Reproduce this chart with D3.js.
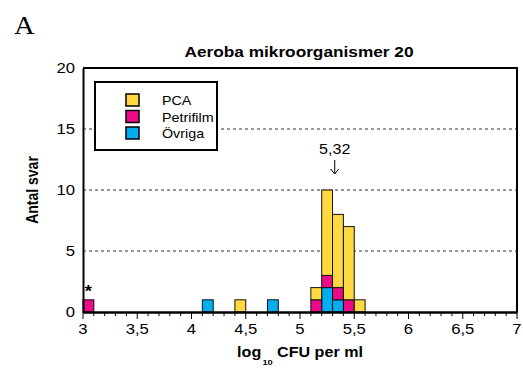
<!DOCTYPE html>
<html>
<head>
<meta charset="utf-8">
<script src="https://cdnjs.cloudflare.com/ajax/libs/d3/7.8.5/d3.min.js"></script>
<style>
  body { margin: 0; background: #fff; }
  svg { display: block; font-family: "Liberation Sans", Arial, sans-serif; }
</style>
</head>
<body>
<svg id="chart" width="523" height="372"></svg>
<script>
// Histogram bins (lower edge, log10 CFU per ml), width 0.1
const binStarts = [3.0, 4.1, 4.4, 4.7, 5.1, 5.2, 5.3, 5.4, 5.5];
const ovriga    = [0,   1,   0,   1,   0,   2,   1,   0,   0];
const petrifilm = [1,   0,   0,   0,   1,   1,   1,   1,   0];
const pca       = [0,   0,   1,   0,   1,   7,   6,   6,   1];
const binWidth = 0.1;

const seriesNames = ["Övriga", "Petrifilm", "PCA"];
const seriesColors = { "PCA": "#ffd940", "Petrifilm": "#ec0a87", "Övriga": "#00aeef" };
const legendOrder = ["PCA", "Petrifilm", "Övriga"];

const xTicks = [3, 3.5, 4, 4.5, 5, 5.5, 6, 6.5, 7];
const yTicks = [0, 5, 10, 15, 20];
const medianValue = 5.32;
const outlierBin = 3.0;

const svg = d3.select("#chart");
const m = { left: 83, right: 517, top: 68, bottom: 312 };
const sx = 1.15; // horizontal stretch of the lettering

const x = d3.scaleLinear().domain([3, 7]).range([m.left, m.right]);
const y = d3.scaleLinear().domain([0, 20]).range([m.bottom, m.top]);

// Text placed at (px, py) with horizontal stretch
function label(px, py, str, opts = {}) {
  const g = svg.append("g").attr("transform", `translate(${px},${py}) scale(${opts.sx || sx},1)`);
  const t = g.append("text").attr("text-anchor", opts.anchor || "middle")
    .attr("font-size", opts.size || 14).text(str);
  if (opts.bold) t.attr("font-weight", "bold");
  if (opts.family) t.attr("font-family", opts.family);
  return t;
}

// Panel letter
label(14, 34, "A", { anchor: "start", size: 26, sx: 1.1,
  family: "'Liberation Serif', 'Times New Roman', serif" });

// Title
label(299, 57, "Aeroba mikroorganismer 20", { bold: true, size: 14.5, sx: 1.19 });

// Dashed gridlines
svg.append("g").selectAll("line").data(yTicks.filter(d => d > 0 && d < 20)).join("line")
  .attr("x1", m.left).attr("x2", m.right)
  .attr("y1", d => y(d)).attr("y2", d => y(d))
  .attr("stroke", "#333").attr("stroke-width", 1).attr("stroke-dasharray", "3,3");

// Stacked bars
const rows = binStarts.map((b, i) => ({ bin: b, "Övriga": ovriga[i], "Petrifilm": petrifilm[i], "PCA": pca[i] }));
const stack = d3.stack().keys(seriesNames)(rows);
svg.append("g").selectAll("g").data(stack).join("g")
  .attr("fill", d => seriesColors[d.key])
  .selectAll("rect").data(d => d.filter(s => s[1] > s[0])).join("rect")
  .attr("x", d => x(d.data.bin))
  .attr("width", d => x(d.data.bin + binWidth) - x(d.data.bin))
  .attr("y", d => y(d[1]))
  .attr("height", d => y(d[0]) - y(d[1]))
  .attr("stroke", "#111").attr("stroke-width", 1);

// Frame (top and right)
svg.append("path")
  .attr("d", `M${m.left},${m.top}H${m.right}V${m.bottom}`)
  .attr("fill", "none").attr("stroke", "#000").attr("stroke-width", 2);

// Y axis
const yAxis = svg.append("g").attr("transform", `translate(${m.left},0)`)
  .call(d3.axisLeft(y).tickValues(yTicks).tickSize(0).tickFormat(""));
yAxis.select(".domain").attr("stroke", "#000").attr("stroke-width", 2);
yTicks.forEach(v => label(m.left - 8, y(v) + 5, String(v), { anchor: "end", size: 14.5 }));

// X axis: minor ticks every 0.1
const minor = d3.range(30, 71).map(v => v / 10);
svg.append("g").selectAll("line").data(minor).join("line")
  .attr("x1", d => x(d)).attr("x2", d => x(d))
  .attr("y1", m.bottom).attr("y2", d => xTicks.includes(d) ? m.bottom + 7 : m.bottom + 4)
  .attr("stroke", "#000").attr("stroke-width", 1);

const xAxis = svg.append("g").attr("transform", `translate(0,${m.bottom})`)
  .call(d3.axisBottom(x).tickValues(xTicks).tickSize(0).tickFormat(""));
xAxis.select(".domain").attr("stroke", "#000").attr("stroke-width", 2.5);
xTicks.forEach(v => label(x(v), m.bottom + 22, String(v).replace(".", ","), { size: 14.5 }));

// Axis titles
svg.append("g").attr("transform", `translate(38,190) scale(${sx + 0.05},1) rotate(-90)`)
  .append("text").attr("text-anchor", "middle").attr("font-weight", "bold")
  .attr("font-size", 14).text("Antal svar");

const xl = label(300, 357, "", { bold: true, size: 14 });
xl.append("tspan").text("log");
xl.append("tspan").attr("font-size", 8).attr("dx", 1).attr("dy", 8).text("10");
xl.append("tspan").attr("dy", -8).text(" CFU per ml");

// Median annotation
const mx = x(medianValue);
label(mx, 154, String(medianValue).replace(".", ","), { size: 14 });
svg.append("line").attr("x1", mx).attr("x2", mx).attr("y1", 160).attr("y2", 174)
  .attr("stroke", "#000").attr("stroke-width", 1);
svg.append("path").attr("d", `M${mx - 4},${169}L${mx},${174}L${mx + 4},${169}`)
  .attr("fill", "none").attr("stroke", "#000").attr("stroke-width", 1);

// Outlier marker
label(x(outlierBin + binWidth / 2), y(1) - 3, "*", { bold: true, size: 16 });

// Legend
const lg = svg.append("g");
lg.append("rect").attr("x", 95).attr("y", 82).attr("width", 122).attr("height", 68)
  .attr("fill", "#fff").attr("stroke", "#000").attr("stroke-width", 2);
legendOrder.forEach((k, i) => {
  const cy = 100 + i * 16.5;
  lg.append("rect").attr("x", 126).attr("y", cy - 6).attr("width", 13).attr("height", 12)
    .attr("fill", seriesColors[k]).attr("stroke", "#000").attr("stroke-width", 1.5);
  label(162, cy + 5, k, { anchor: "start", size: 13, sx: 1.1 });
});
</script>
</body>
</html>
